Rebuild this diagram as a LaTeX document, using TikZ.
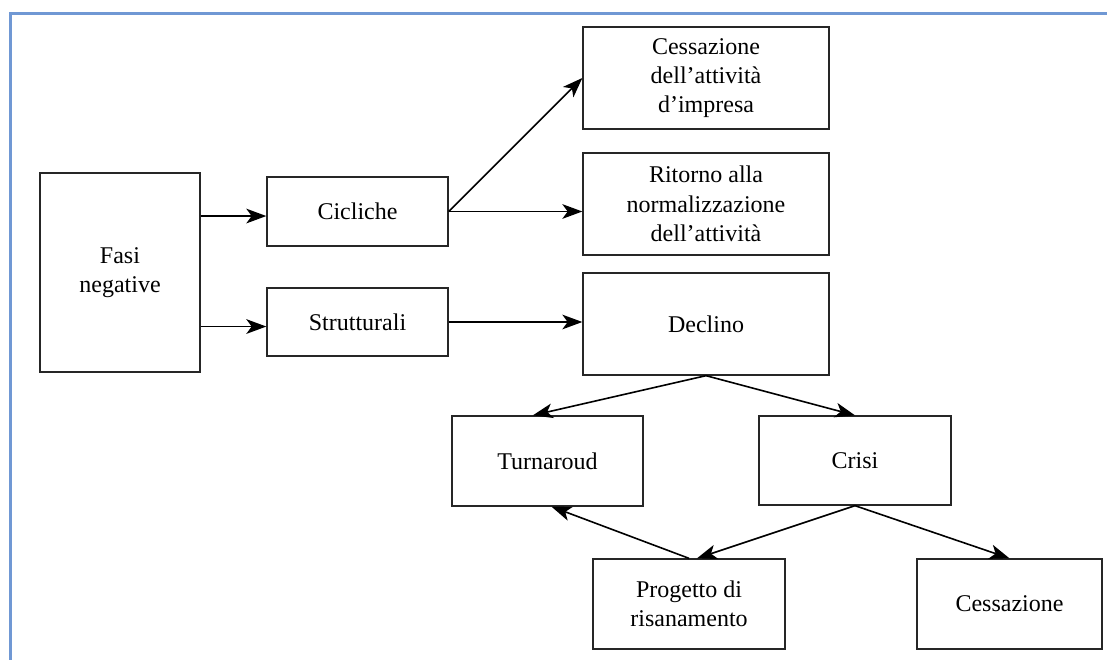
\documentclass[tikz,border=0pt]{standalone}
\usepackage{fontspec}
\setmainfont{Liberation Serif}
\usetikzlibrary{arrows.meta}
\usetikzlibrary{calc}

\definecolor{frameBlue}{RGB}{112,152,212}

\begin{document}
\begin{tikzpicture}[
    x=0.75pt, y=-0.75pt,
    black!85,
    faseBox/.style = {draw, line width = 1pt, align = center,
                      font = \fontsize{18}{22}\selectfont, text = black,
                      inner sep = 2pt},
    arr/.style = {line width = 1.2pt, black,
                  -{Stealth[length = 15pt, width = 11pt, inset = 4pt]}},
    ]

    % Determines the boundries
    \path[use as bounding box] (0,0) rectangle (1107,660);
    \draw[frameBlue, line width = 1.6pt] (10.5,660) -- (10.5,13.5) -- (1107,13.5);

    % Box sizes (pt)
    \def\wSide{135.75pt}    % width of the second column
    \def\wMain{184.5pt}     % width of the third column
    \def\hMain{76.5pt}      % height of the third column
    \def\wLow{144pt}        % width of the lower boxes
    \def\hLow{67.5pt}       % height of the lower boxes
    \def\drop{-3.4pt}       % arrows out of the first column sit a bit low

    % First column
    \node[faseBox, minimum width = 120pt, minimum height = 149.25pt] (fasi) at (120,272.5) {Fasi\\negative};

    % Second column
    \node[faseBox, minimum width = \wSide, minimum height = 51.75pt] (cicl)  at (357.5,211.5) {Cicliche};
    \node[faseBox, minimum width = \wSide, minimum height = 51pt]    (strut) at (357.5,322)   {Strutturali};

    % Third column
    \node[faseBox, minimum width = \wMain, minimum height = \hMain] (cessImp) at (706,78)  {Cessazione\\dell'attività\\d'impresa};
    \node[faseBox, minimum width = \wMain, minimum height = \hMain] (ritorno) at (706,204) {Ritorno alla\\normalizzazione\\dell'attività};
    \node[faseBox, minimum width = \wMain, minimum height = \hMain] (declino) at (706,324) {Declino};

    % Lower part
    \node[faseBox, minimum width = 143.25pt, minimum height = \hLow] (turn)  at (547.5,461) {Turnaroud};
    \node[faseBox, minimum width = \wLow, minimum height = 66.75pt]  (crisi) at (855,460.5) {Crisi};
    \node[faseBox, minimum width = \wLow, minimum height = \hLow]    (prog)  at (689,604)   {Progetto di\\risanamento};
    \node[faseBox, minimum width = 138.75pt, minimum height = \hLow] (cessaz) at (1009.5,604) {Cessazione};

    % The arrows
    \draw[arr] ([yshift = \drop]fasi.east |- cicl.west)  -- ([yshift = \drop]cicl.west);
    \draw[arr] ([yshift = \drop]fasi.east |- strut.west) -- ([yshift = \drop]strut.west);
    \draw[arr] (cicl.east)                -- (cessImp.west);
    \draw[arr] (cicl.east)                -- (cicl.east -| ritorno.west);
    \draw[arr] (strut.east)               -- (strut.east -| declino.west);
    \draw[arr] (declino.south)            -- ([xshift = -11pt]turn.north);
    \draw[arr] (declino.south)            -- (crisi.north);
    \draw[arr] (crisi.south)              -- ([xshift = 6pt]prog.north);
    \draw[arr] (crisi.south)              -- (cessaz.north);
    \draw[arr] (prog.north)               -- ([xshift = 3pt]turn.south);
\end{tikzpicture}
\end{document}
